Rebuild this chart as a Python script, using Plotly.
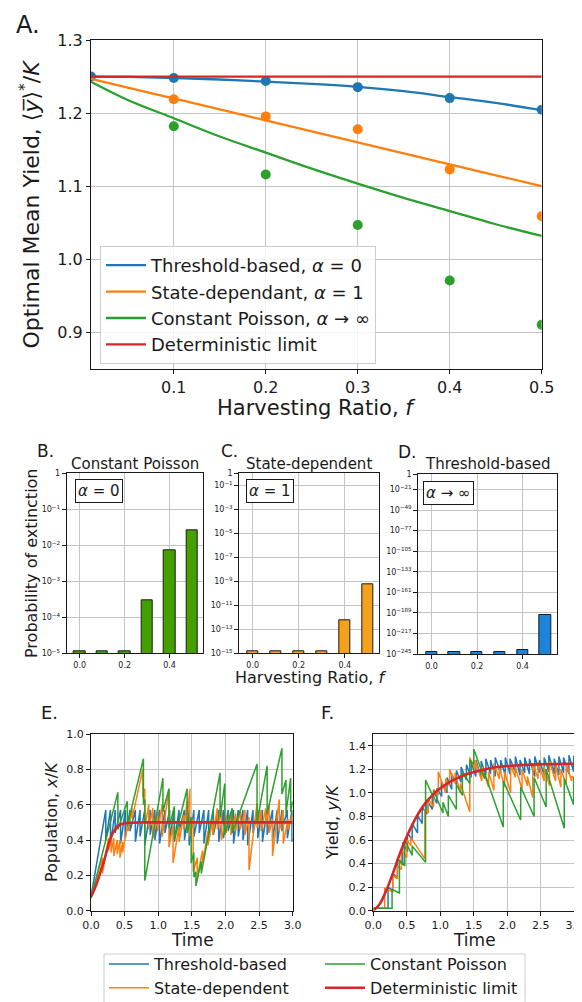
import plotly.graph_objects as go

# the page body adds an 8px offset, so the figure is 8px smaller and coordinates are shifted
OFF = 8
W, H = 582 - OFF, 1002 - OFF


def px(x):
    return (x - OFF) / W


def py(y):
    return 1 - (y - OFF) / H


BLUE = '#1f77b4'
ORANGE = '#ff7f0e'
GREEN = '#2ca02c'
RED = '#d62728'
FONT = 'DejaVu Sans'
INK = '#1a1a1a'
GRID = '#c4c4c4'

# ---------------- Panel A data ----------------
f_curve = [0.01, 0.05, 0.10, 0.15, 0.20, 0.25, 0.30, 0.35, 0.40, 0.45, 0.50]
threshold_curve = [1.250, 1.2495, 1.248, 1.246, 1.243, 1.240, 1.236, 1.230, 1.222, 1.214, 1.204]
state_curve = [1.247, 1.235, 1.220, 1.205, 1.190, 1.175, 1.160, 1.145, 1.130, 1.115, 1.100]
poisson_curve = [1.243, 1.218, 1.193, 1.168, 1.146, 1.124, 1.1035, 1.084, 1.066, 1.048, 1.032]
deterministic_curve = [1.25, 1.25, 1.25, 1.25, 1.25, 1.25, 1.25, 1.25, 1.25, 1.25, 1.25]

f_points_threshold = [0.01, 0.1, 0.2, 0.3, 0.4, 0.5]
threshold_points = [1.250, 1.248, 1.244, 1.2355, 1.2205, 1.2045]
f_points = [0.1, 0.2, 0.3, 0.4, 0.5]
state_points = [1.219, 1.1955, 1.178, 1.123, 1.059]
poisson_points = [1.182, 1.116, 1.047, 0.971, 0.9105]

# ---------------- Panels B-D data ----------------
f_bars = [0.0, 0.1, 0.2, 0.3, 0.4, 0.5]
p_ext_poisson = [1.15e-5, 1.15e-5, 1.15e-5, 2.9e-4, 7.4e-3, 2.66e-2]
p_ext_state = [1.5e-15, 1.5e-15, 1.5e-15, 1.5e-15, 5.9e-13, 5.4e-10]
p_ext_threshold = [5e-243, 5e-243, 5e-243, 5e-243, 2.5e-240, 1e-192]

b_ticks = [1, 1e-1, 1e-2, 1e-3, 1e-4, 1e-5]
b_labels = ['1', '10<sup>−1</sup>', '10<sup>−2</sup>', '10<sup>−3</sup>', '10<sup>−4</sup>', '10<sup>−5</sup>']
c_ticks = [1, 1e-1, 1e-3, 1e-5, 1e-7, 1e-9, 1e-11, 1e-13, 1e-15]
c_labels = ['1', '10<sup>−1</sup>', '10<sup>−3</sup>', '10<sup>−5</sup>', '10<sup>−7</sup>', '10<sup>−9</sup>',
            '10<sup>−11</sup>', '10<sup>−13</sup>', '10<sup>−15</sup>']
d_ticks = [1, 1e-21, 1e-49, 1e-77, 1e-105, 1e-133, 1e-161, 1e-189, 1e-217, 1e-245]
d_labels = ['1', '10<sup>−21</sup>', '10<sup>−49</sup>', '10<sup>−77</sup>', '10<sup>−105</sup>',
            '10<sup>−133</sup>', '10<sup>−161</sup>', '10<sup>−189</sup>', '10<sup>−217</sup>', '10<sup>−245</sup>']

# ---------------- Panels E-F data ----------------
# threshold-based: harvest whenever population reaches the threshold
threshold_level = 0.57
threshold_times = [0.22, 0.29, 0.36, 0.44, 0.51, 0.58, 0.66, 0.73, 0.80, 0.88,
                   0.95, 1.02, 1.10, 1.17, 1.24, 1.31, 1.39, 1.46, 1.53, 1.61,
                   1.68, 1.75, 1.82, 1.90, 1.97, 2.04, 2.12, 2.19, 2.26, 2.33,
                   2.41, 2.48, 2.55, 2.62, 2.70, 2.77, 2.84, 2.92, 2.99]
threshold_troughs = [0.40, 0.37, 0.44, 0.38, 0.41, 0.45, 0.39, 0.42, 0.37, 0.43,
                     0.40, 0.38, 0.44, 0.41, 0.39, 0.45, 0.40, 0.37, 0.42, 0.44,
                     0.38, 0.40, 0.43, 0.39, 0.41, 0.45, 0.38, 0.42, 0.40, 0.37,
                     0.44, 0.41, 0.39, 0.43, 0.40, 0.38, 0.45, 0.41, 0.39]
threshold_yield_low = [0.02, 0.17, 0.28, 0.39, 0.50, 0.60, 0.66, 0.74, 0.82, 0.86,
                       0.91, 0.97, 1.00, 1.03, 1.07, 1.09, 1.11, 1.13, 1.14, 1.13,
                       1.15, 1.16, 1.14, 1.17, 1.15, 1.16, 1.18, 1.15, 1.17, 1.16,
                       1.14, 1.17, 1.15, 1.18, 1.16, 1.15, 1.17, 1.16, 1.18]
threshold_yield_high = [0.20, 0.32, 0.44, 0.58, 0.66, 0.74, 0.81, 0.88, 0.94, 0.99,
                        1.04, 1.09, 1.13, 1.16, 1.19, 1.22, 1.24, 1.26, 1.28, 1.27,
                        1.29, 1.28, 1.30, 1.28, 1.30, 1.29, 1.31, 1.28, 1.30, 1.29,
                        1.31, 1.28, 1.30, 1.32, 1.29, 1.31, 1.30, 1.32, 1.31]

state_times = [0.17, 0.26, 0.30, 0.34, 0.39, 0.43, 0.47, 0.55, 0.61, 0.77, 0.80, 0.86, 0.92, 0.99,
               1.06, 1.16, 1.22, 1.31, 1.38, 1.43, 1.47, 1.52, 1.58, 1.66, 1.74, 1.81, 1.88, 1.94,
               2.01, 2.08, 2.15, 2.22, 2.29, 2.35, 2.47, 2.53, 2.60, 2.65, 2.70, 2.80, 2.86, 2.93]
state_pop_before = [0.30, 0.41, 0.42, 0.41, 0.40, 0.40, 0.39, 0.50, 0.58, 0.80, 0.69, 0.60, 0.58, 0.56,
                    0.60, 0.69, 0.48, 0.48, 0.54, 0.62, 0.69, 0.52, 0.30, 0.34, 0.45, 0.52, 0.58, 0.57,
                    0.54, 0.56, 0.55, 0.57, 0.57, 0.53, 0.61, 0.57, 0.58, 0.60, 0.52, 0.63, 0.57, 0.52]
state_pop_after = [0.21, 0.34, 0.33, 0.31, 0.32, 0.30, 0.33, 0.45, 0.52, 0.64, 0.47, 0.46, 0.41, 0.45,
                   0.42, 0.36, 0.27, 0.39, 0.46, 0.51, 0.42, 0.22, 0.19, 0.27, 0.37, 0.43, 0.46, 0.40,
                   0.44, 0.43, 0.45, 0.46, 0.43, 0.23, 0.47, 0.45, 0.48, 0.44, 0.31, 0.45, 0.38, 0.46]
state_yield_times = [0.17, 0.29, 0.36, 0.42, 0.50, 0.56, 0.77, 0.82, 0.90, 0.97, 1.08, 1.14, 1.22, 1.30,
                     1.44, 1.52, 1.62, 1.72, 1.80, 1.88, 1.96, 2.05, 2.12, 2.22, 2.30, 2.38, 2.46, 2.55,
                     2.63, 2.72, 2.80, 2.88, 2.96]
state_yield_before = [0.02, 0.16, 0.27, 0.35, 0.45, 0.55, 0.44, 0.83, 0.88, 0.98, 1.00, 1.06, 1.08, 1.00,
                      0.84, 1.20, 1.10, 1.05, 1.02, 1.12, 1.05, 1.00, 1.13, 1.03, 1.06, 0.96, 1.12, 1.10,
                      1.06, 1.10, 1.05, 1.07, 1.10]
state_yield_after = [0.19, 0.30, 0.38, 0.52, 0.60, 0.62, 0.86, 0.95, 1.03, 1.18, 1.12, 1.20, 1.17, 1.08,
                     1.30, 1.28, 1.22, 1.18, 1.25, 1.22, 1.18, 1.24, 1.22, 1.20, 1.14, 1.25, 1.26, 1.22,
                     1.27, 1.24, 1.20, 1.25, 1.14]

poisson_times = [0.40, 0.54, 0.78, 0.80, 1.07, 1.16, 1.24, 1.43, 1.49, 1.53,
                 1.56, 1.64, 1.92, 1.99, 2.10, 2.47, 2.62, 2.84, 2.90, 2.97]
poisson_pop_before = [0.67, 0.62, 0.86, 0.63, 0.75, 0.69, 0.59, 0.69, 0.53, 0.33,
                      0.22, 0.28, 0.78, 0.72, 0.58, 0.83, 0.82, 0.92, 0.74, 0.75]
poisson_pop_after = [0.46, 0.48, 0.60, 0.17, 0.56, 0.47, 0.40, 0.44, 0.27, 0.19,
                     0.14, 0.21, 0.53, 0.43, 0.44, 0.50, 0.55, 0.66, 0.55, 0.56]
poisson_yield_times = [0.28, 0.39, 0.47, 0.58, 0.78, 0.90, 1.04, 1.12, 1.24, 1.33,
                       1.44, 1.50, 1.66, 1.94, 2.20, 2.40, 2.58, 2.85, 2.99]
poisson_yield_before = [0.02, 0.15, 0.38, 0.47, 0.41, 0.96, 0.83, 0.80, 0.86, 0.98,
                        1.08, 1.24, 1.12, 0.71, 0.77, 0.80, 0.88, 0.70, 0.90]
poisson_yield_after = [0.18, 0.43, 0.60, 0.55, 1.11, 1.02, 0.92, 0.98, 1.07, 1.18,
                       1.28, 1.37, 1.17, 1.10, 1.05, 1.13, 1.20, 1.12, 1.13]

det_pop_t = [0.0, 0.05, 0.1, 0.15, 0.2, 0.25, 0.3, 0.35, 0.4, 0.45, 0.5, 0.6, 0.7, 0.8, 1.0, 1.5, 2.0, 2.5, 3.0]
det_pop = [0.08, 0.12, 0.17, 0.23, 0.29, 0.36, 0.42, 0.455, 0.478, 0.490, 0.495, 0.498, 0.499, 0.5,
           0.5, 0.5, 0.5, 0.5, 0.5]
det_yield_t = [0.0, 0.1, 0.2, 0.3, 0.4, 0.5, 0.6, 0.7, 0.8, 0.9, 1.0, 1.2, 1.4, 1.6, 1.8, 2.0, 2.5, 3.0]
det_yield = [0.0, 0.06, 0.18, 0.33, 0.49, 0.63, 0.75, 0.85, 0.93, 0.99, 1.04, 1.11, 1.16, 1.19,
             1.215, 1.228, 1.243, 1.248]


def jump_path(t0, v0, times, before, after, t_end, v_end):
    ts, vs = [t0], [v0]
    for t, b, a in zip(times, before, after):
        ts += [t, t]
        vs += [b, a]
    ts.append(t_end)
    vs.append(v_end)
    return ts, vs


fig = go.Figure()

# ---- Panel A ----
fig.add_trace(go.Scatter(x=f_points, y=poisson_points, mode='markers', marker=dict(color=GREEN, size=10),
                         showlegend=False, cliponaxis=True))
fig.add_trace(go.Scatter(x=f_points, y=state_points, mode='markers', marker=dict(color=ORANGE, size=10),
                         showlegend=False, cliponaxis=True))
fig.add_trace(go.Scatter(x=f_points_threshold, y=threshold_points, mode='markers',
                         marker=dict(color=BLUE, size=10), showlegend=False, cliponaxis=True))
labelsA = ['Threshold-based, <i>α</i> = 0', 'State-dependant, <i>α</i> = 1',
           'Constant Poisson, <i>α</i> → ∞', 'Deterministic limit']
for ys, col, name in zip([threshold_curve, state_curve, poisson_curve, deterministic_curve],
                         [BLUE, ORANGE, GREEN, RED], labelsA):
    fig.add_trace(go.Scatter(x=f_curve, y=ys, mode='lines', line=dict(color=col, width=2.3, shape='spline'),
                             name=name, legend='legend'))

# ---- Panels B-D ----
for ax, vals, col in [('2', p_ext_poisson, '#43a000'), ('3', p_ext_state, '#f4a21c'),
                      ('4', p_ext_threshold, '#1c84da')]:
    fig.add_trace(go.Bar(x=f_bars, y=vals, width=0.05, marker=dict(color=col, line=dict(color=INK, width=1)),
                         xaxis='x' + ax, yaxis='y' + ax, showlegend=False))

# ---- Panels E-F ----
thr_pop_t, thr_pop_v = jump_path(0.0, 0.08, threshold_times, [threshold_level] * len(threshold_times),
                                 threshold_troughs, 3.0, 0.41)
thr_y_t, thr_y_v = jump_path(0.0, 0.02, threshold_times, threshold_yield_low, threshold_yield_high, 3.0, 1.31)
st_pop_t, st_pop_v = jump_path(0.0, 0.08, state_times, state_pop_before, state_pop_after, 3.0, 0.55)
st_y_t, st_y_v = jump_path(0.0, 0.02, state_yield_times, state_yield_before, state_yield_after, 3.0, 1.13)
po_pop_t, po_pop_v = jump_path(0.0, 0.07, poisson_times, poisson_pop_before, poisson_pop_after, 3.0, 0.62)
po_y_t, po_y_v = jump_path(0.0, 0.02, poisson_yield_times, poisson_yield_before, poisson_yield_after, 3.0, 1.13)

series_E = [(thr_pop_t, thr_pop_v, BLUE, 'Threshold-based', 'legend2', 1.5, 'linear'),
            (st_pop_t, st_pop_v, ORANGE, 'State-dependent', 'legend2', 1.5, 'linear'),
            (po_pop_t, po_pop_v, GREEN, 'Constant Poisson', 'legend3', 1.5, 'linear'),
            (det_pop_t, det_pop, RED, 'Deterministic limit', 'legend3', 2.6, 'spline')]
series_F = [(thr_y_t, thr_y_v, BLUE, 1.5, 'linear'),
            (st_y_t, st_y_v, ORANGE, 1.5, 'linear'),
            (po_y_t, po_y_v, GREEN, 1.5, 'linear'),
            (det_yield_t, det_yield, RED, 2.6, 'spline')]
for t, v, col, name, leg, wd, shp in series_E:
    fig.add_trace(go.Scatter(x=t, y=v, mode='lines', line=dict(color=col, width=wd, shape=shp), name=name,
                             legend=leg, xaxis='x5', yaxis='y5'))
for t, v, col, wd, shp in series_F:
    fig.add_trace(go.Scatter(x=t, y=v, mode='lines', line=dict(color=col, width=wd, shape=shp),
                             showlegend=False, xaxis='x6', yaxis='y6'))


def axis(size, **kw):
    d = dict(showline=True, linecolor=INK, linewidth=1, mirror=True, ticks='outside', ticklen=4,
             tickwidth=1, tickcolor=INK, showgrid=True, gridcolor=GRID, gridwidth=1, zeroline=False,
             tickfont=dict(family=FONT, size=size, color=INK), fixedrange=True, automargin=False,
             ticklabeloverflow='allow')
    d.update(kw)
    return d


bar_x = dict(range=[-0.058, 0.55], tickvals=[0.0, 0.2, 0.4], ticktext=['0.0', '0.2', '0.4'])

legend_common = dict(xanchor='left', yanchor='top', bgcolor='rgba(0,0,0,0)', borderwidth=0,
                     font=dict(family=FONT, size=16, color=INK), tracegroupgap=0, itemwidth=40)

layout = dict(
    width=W, height=H, margin=dict(l=0, r=0, t=0, b=0, autoexpand=False),
    paper_bgcolor='white', plot_bgcolor='white',
    font=dict(family=FONT, color=INK),
    bargap=0,
    xaxis=axis(16, domain=[px(91), px(541.7)], range=[0.01, 0.5], tickvals=[0.1, 0.2, 0.3, 0.4, 0.5],
               ticktext=['0.1', '0.2', '0.3', '0.4', '0.5'], anchor='y'),
    yaxis=axis(16, domain=[py(369), py(40)], range=[0.85, 1.3], tickvals=[0.9, 1.0, 1.1, 1.2, 1.3],
               ticktext=['0.9', '1.0', '1.1', '1.2', '1.3'], anchor='x'),
    xaxis2=axis(8, domain=[px(66.7), px(203.3)], anchor='y2', **bar_x),
    yaxis2=axis(8, domain=[py(653.3), py(473.3)], type='log', range=[-5, 0], tickvals=b_ticks,
                ticktext=b_labels, anchor='x2'),
    xaxis3=axis(8, domain=[px(239.3), px(379.3)], anchor='y3', **bar_x),
    yaxis3=axis(8, domain=[py(653.3), py(473.3)], type='log', range=[-15, 0], tickvals=c_ticks,
                ticktext=c_labels, anchor='x3'),
    xaxis4=axis(8, domain=[px(418.3), px(556.7)], anchor='y4', **bar_x),
    yaxis4=axis(8, domain=[py(654), py(474)], type='log', range=[-245, 0], tickvals=d_ticks,
                ticktext=d_labels, anchor='x4'),
    xaxis5=axis(11, domain=[px(91), px(292.7)], range=[0, 3], tickvals=[0, 0.5, 1, 1.5, 2, 2.5, 3],
                ticktext=['0.0', '0.5', '1.0', '1.5', '2.0', '2.5', '3.0'], anchor='y5'),
    yaxis5=axis(11, domain=[py(910.7), py(734)], range=[0, 1], tickvals=[0, 0.2, 0.4, 0.6, 0.8, 1.0],
                ticktext=['0.0', '0.2', '0.4', '0.6', '0.8', '1.0'], anchor='x5'),
    xaxis6=axis(11, domain=[px(373.3), px(574.3)], range=[0, 3], tickvals=[0, 0.5, 1, 1.5, 2, 2.5, 3],
                ticktext=['0.0', '0.5', '1.0', '1.5', '2.0', '2.5', '3.0'], anchor='y6'),
    yaxis6=axis(11, domain=[py(910.7), py(734)], range=[0, 1.5],
                tickvals=[0, 0.2, 0.4, 0.6, 0.8, 1.0, 1.2, 1.4],
                ticktext=['0.0', '0.2', '0.4', '0.6', '0.8', '1.0', '1.2', '1.4'], anchor='x6'),
    legend=dict(x=px(100), y=py(246), xanchor='left', yanchor='top', bgcolor='rgba(255,255,255,0.8)',
                bordercolor='#cccccc', borderwidth=1, font=dict(family=FONT, size=18, color=INK),
                tracegroupgap=0, itemwidth=40),
    legend2=dict(x=px(104), y=py(947), **legend_common),
    legend3=dict(x=px(320), y=py(947), **legend_common),
    shapes=[dict(type='rect', xref='paper', yref='paper', x0=px(104), x1=px(525), y0=py(1012), y1=py(954),
                 line=dict(color='#cccccc', width=1), fillcolor='rgba(0,0,0,0)', layer='below')],
)


def ann(text, x, y, size, **kw):
    d = dict(text=text, x=px(x), y=py(y), xref='paper', yref='paper', showarrow=False,
             font=dict(family=FONT, size=size, color=INK), xanchor='center', yanchor='middle')
    d.update(kw)
    return d


annotations = [
    ann('A.', 28, 9, 24, yanchor='top'),
    ann('Optimal Mean Yield, ⟨<i>y̅</i>⟩<sup>*</sup>/<i>K</i>', 29, 204.5, 22, textangle=-90),
    ann('Harvesting Ratio, <i>f</i>', 316, 408, 21),
    ann('B.', 45.5, 451, 17),
    ann('C.', 229, 451, 17),
    ann('D.', 407, 452, 17),
    ann('Constant Poisson', 135, 464, 15),
    ann('State-dependent', 309.3, 464, 15),
    ann('Threshold-based', 487.5, 464, 15),
    ann('<i>α</i> = 0', 98.5, 491, 15, bordercolor=INK, borderwidth=1, borderpad=2, bgcolor='white'),
    ann('<i>α</i> = 1', 269.7, 491, 15, bordercolor=INK, borderwidth=1, borderpad=2, bgcolor='white'),
    ann('<i>α</i> → ∞', 448.7, 492.5, 15, bordercolor=INK, borderwidth=1, borderpad=2, bgcolor='white'),
    ann('Probability of extinction', 31, 563, 16, textangle=-90),
    ann('Harvesting Ratio, <i>f</i>', 310, 677, 16),
    ann('E.', 49, 712, 18),
    ann('F.', 327, 712, 18),
    ann('Population, <i>x</i>/<i>K</i>', 51, 822, 16, textangle=-90),
    ann('Yield, <i>y</i>/<i>K</i>', 332, 822, 16, textangle=-90),
    ann('Time', 192, 940, 17),
    ann('Time', 474, 940, 17),
]
layout['annotations'] = annotations

fig.update_layout(**layout)
fig.write_html('out.html')
